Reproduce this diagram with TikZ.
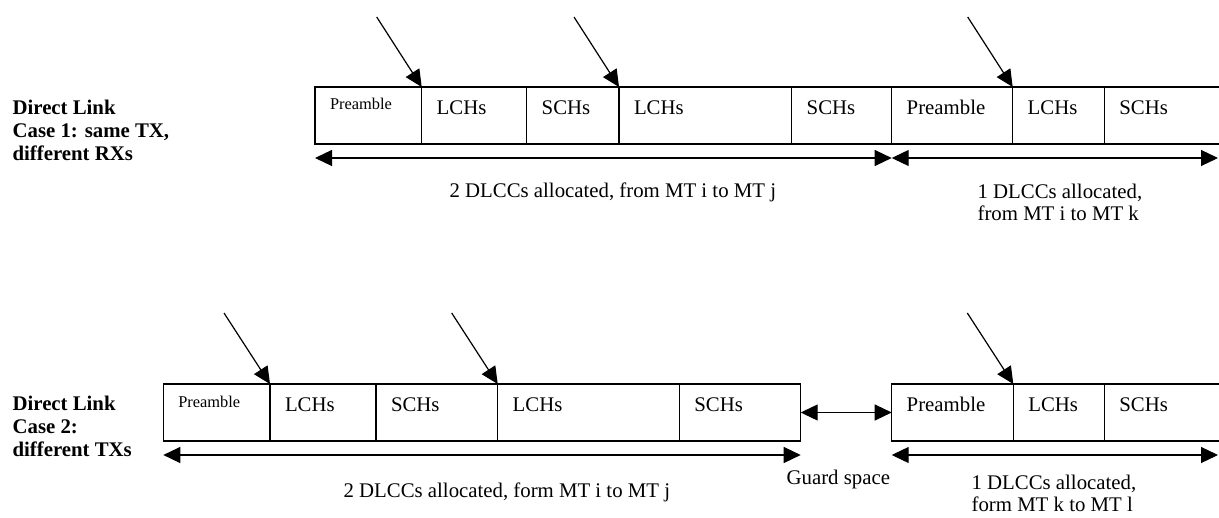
\documentclass[tikz,border=0pt]{standalone}
\usepackage{fontspec}
\setmainfont{Liberation Serif}
\usepackage{tikz}
\usetikzlibrary{arrows.meta}

\begin{document}
\begin{tikzpicture}[
    % GLOBAL CFG
    x=0.5pt, y=-0.5pt,
    font=\fontsize{10.4}{11.25}\selectfont,
    line width=0.6pt,
    >={Triangle[length=8.5pt,width=8pt]},
    % Styles
    cell/.style={% one slot of the frame
        rectangle,
        draw,
        anchor=north west,
        outer sep=0pt,
        inner xsep=7.5pt,
        inner ysep=0pt,
        minimum height=28.5pt,
        text height=7pt,
        text depth=8pt,
        align=left,
        },
    smallcell/.style={% the short preamble slot
        cell,
        font=\fontsize{8.2}{9}\selectfont,
        text height=6pt,
        text depth=11.5pt,
        },
    case/.style={% row titles on the left
        anchor=north west,
        inner sep=0pt,
        align=left,
        font=\fontsize{10.4}{11.5}\selectfont\bfseries,
        },
    note/.style={% texts under the spans
        anchor=north west,
        inner sep=0pt,
        align=left,
        },
    ptr/.style={% slanted pointers
        ->,
        },
    span/.style={% length markers
        <->,
        },
    ]

    \useasboundingbox (0,0) rectangle (1219,518);

    % Row 1: same TX, different RXs
    \node[case] (case1) at (12,99) {Direct Link\\Case 1: same TX,\\different RXs};

    % Draw the slots named pa#, la#, sa#
    \node[smallcell, text width=38.35pt] (pa1) at (315,87) {Preamble};
    \node[cell, text width=37.5pt] (la1) at (421.7,87) {LCHs};
    \node[cell, text width=31.15pt] (sa1) at (526.7,87) {SCHs};
    \node[cell, text width=71.35pt] (la2) at (619,87) {LCHs};
    \node[cell, text width=35pt] (sa2) at (791.7,87) {SCHs};
    \node[cell, text width=45.5pt] (pa2) at (891.7,87) {Preamble};
    \node[cell, text width=30.8pt] (la3) at (1012.7,87) {LCHs};
    \node[cell, text width=50pt] (sa3) at (1104.3,87) {SCHs}; % runs off the page

    % Pointers
    \draw[ptr] ([shift={(-45,-70)}]la1.north west) -- (la1.north west);
    \draw[ptr] ([shift={(-45,-70)}]la2.north west) -- (la2.north west);
    \draw[ptr] ([shift={(-45,-70)}]la3.north west) -- (la3.north west);

    % Spans
    \coordinate (endA) at (1218,158);
    \draw[span] ([shift={(0,14)}]pa1.south west) -- ([shift={(0,14)}]sa2.south east);
    \draw[span] ([shift={(0,14)}]pa2.south west) -- (endA);

    \node[note] (alloc1) at (449,182) {2 DLCCs allocated, from MT i to MT j};
    \node[note] (alloc2) at (977,183) {1 DLCCs allocated,\\from MT i to MT k};

    % Row 2: different TXs
    \node[case] (case2) at (12,395) {Direct Link\\Case 2:\\different TXs};

    % Draw the slots named pb#, lb#, sb#
    \node[smallcell, text width=38.35pt] (pb1) at (163.3,384) {Preamble};
    \node[cell, text width=38pt] (lb1) at (270,384) {LCHs};
    \node[cell, text width=45.85pt] (sb1) at (376,384) {SCHs};
    \node[cell, text width=75.8pt] (lb2) at (497.7,384) {LCHs};
    \node[cell, text width=45.7pt] (sb2) at (679.3,384) {SCHs};
    \node[cell, text width=45.8pt] (pb2) at (891.7,384) {Preamble};
    \node[cell, text width=30.5pt] (lb3) at (1013.3,384) {LCHs};
    \node[cell, text width=50pt] (sb3) at (1104.3,384) {SCHs}; % runs off the page

    % Pointers
    \draw[ptr] ([shift={(-46,-71)}]lb1.north west) -- (lb1.north west);
    \draw[ptr] ([shift={(-46,-71)}]lb2.north west) -- (lb2.north west);
    \draw[ptr] ([shift={(-46,-71)}]lb3.north west) -- (lb3.north west);

    % Spans and guard
    \coordinate (endB) at (1218,455);
    \draw[span] ([shift={(0,14)}]pb1.south west) -- ([shift={(0,14)}]sb2.south east);
    \draw[span] ([shift={(0,14)}]pb2.south west) -- (endB);
    \draw[span] (sb2.east) -- (pb2.west);

    \node[note] (alloc3) at (343,482) {2 DLCCs allocated, form MT i to MT j};
    \node[note] (guard) at (786,469) {Guard space};
    \node[note] (alloc4) at (971,474) {1 DLCCs allocated,\\form MT k to MT l};

\end{tikzpicture}
\end{document}
